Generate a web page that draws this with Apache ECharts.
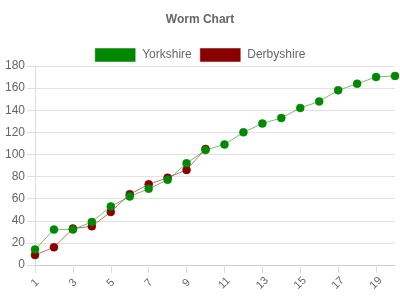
<!DOCTYPE html>
<html><head><meta charset="utf-8">
<script src="https://cdn.jsdelivr.net/npm/echarts@6/dist/echarts.min.js"></script>
<style>html,body{margin:0;padding:0;background:#fff}#c{width:400px;height:300px}</style>
</head><body><div id="c"></div>
<script>
var categories = ['1','2','3','4','5','6','7','8','9','10','11','12','13','14','15','16','17','18','19','20'];
var yorkshire = [14,32,32,39,53,62,69,77,92,104,109,120,128,133,142,148,158,164,170,171];
var derbyshire = [9,16,33,35,48,64,73,79,86,105];
var yTicks = [0,20,40,60,80,100,120,140,160,180];

var font = "'Liberation Sans', Arial, sans-serif";
var chart = echarts.init(document.getElementById('c'), null, {renderer:'canvas'});
chart.setOption({
  animation:false,
  title:{text:'Worm Chart',left:'center',top:9,textStyle:{fontFamily:font,fontSize:12,fontWeight:'bold',color:'#666'}},
  legend:{top:43,left:'center',itemWidth:40,itemHeight:13,itemGap:8,
    textStyle:{fontFamily:font,fontSize:12,color:'#666',padding:[0,0,0,2]},
    data:[{name:'Yorkshire',icon:'rect',itemStyle:{color:'#008800',borderColor:'rgba(0,136,0,0.5)',borderWidth:1}},
          {name:'Derbyshire',icon:'rect',itemStyle:{color:'#880000',borderColor:'rgba(136,0,0,0.5)',borderWidth:1}}]},
  grid:{left:35,right:5,top:66,bottom:35,containLabel:false},
  xAxis:{type:'category',data:categories,boundaryGap:false,
    axisLine:{lineStyle:{color:'#ccc'}},
    axisTick:{show:true,length:8,interval:1,alignWithLabel:true,lineStyle:{color:'#ddd'}},
    axisLabel:{interval:1,rotate:45,margin:18,align:'center',verticalAlign:'middle',fontFamily:font,fontSize:11,color:'#666'},
    splitLine:{show:false}},
  yAxis:{type:'value',min:yTicks[0],max:yTicks[yTicks.length-1],interval:20,
    axisLine:{show:true,lineStyle:{color:'#ddd'}},
    axisTick:{show:true,length:8,lineStyle:{color:'#ddd'}},
    axisLabel:{margin:10,fontFamily:font,fontSize:12,color:'#666'},
    splitLine:{lineStyle:{color:'#e2e2e2'}}},
  series:[
    {name:'Yorkshire',type:'line',data:yorkshire,z:3,symbol:'circle',symbolSize:8,
      lineStyle:{width:1,color:'rgba(0,136,0,0.55)'},
      itemStyle:{color:'#008800',borderColor:'rgba(0,136,0,0.5)',borderWidth:1}},
    {name:'Derbyshire',type:'line',data:derbyshire,z:2,symbol:'circle',symbolSize:8,
      lineStyle:{width:1,color:'rgba(136,0,0,0.55)'},
      itemStyle:{color:'#880000',borderColor:'rgba(136,0,0,0.5)',borderWidth:1}}
  ]
});
</script></body></html>
